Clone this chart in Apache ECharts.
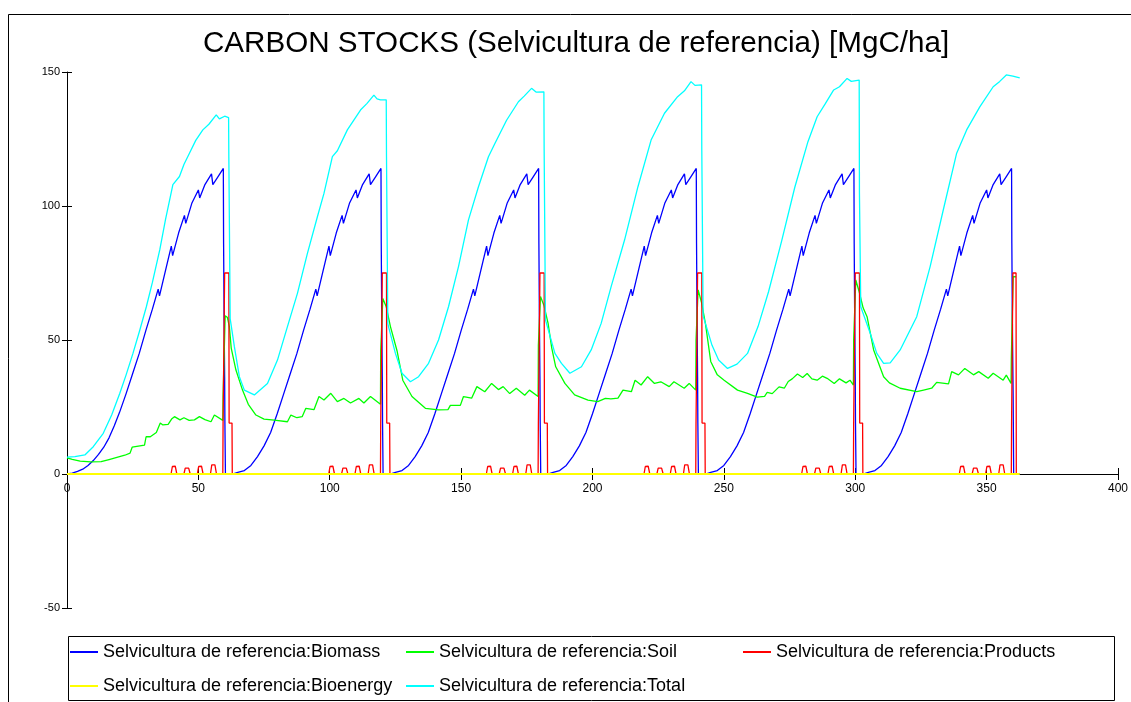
<!DOCTYPE html>
<html>
<head>
<meta charset="utf-8">
<script src="https://cdn.jsdelivr.net/npm/echarts@6/dist/echarts.min.js"></script>
<style>
  html, body { margin: 0; padding: 0; background: #fff; }
  #chart { width: 1131px; height: 702px; }
</style>
</head>
<body>
<div id="chart"></div>
<script>
// series names (legend)
const NAMES = [
  'Selvicultura de referencia:Biomass',
  'Selvicultura de referencia:Soil',
  'Selvicultura de referencia:Products',
  'Selvicultura de referencia:Bioenergy',
  'Selvicultura de referencia:Total'
];
const COLORS = ['#0000ff', '#00ff00', '#ff0000', '#ffff00', '#00ffff'];

// axis ticks
const X_TICKS = { min: 0, max: 400, step: 50 };
const Y_TICKS = { min: -50, max: 150, step: 50 };

// [year, MgC/ha]
const biomass = [
  [0,0],[2,0.3],[4,1],[6,1.8],[8,3.2],[10,5],[12,7.3],[14,10],[16,13.5],[18,18],[20,23],[22.5,30],[25,37.5],[27.5,45],[30,53.5],[32.5,61.5],[34.7,69],[35.2,66.5],[37.5,76],[39.7,85],[40.2,81.5],[42.5,90],[44.7,96.5],[45.2,93.5],[47.5,101],[50,106],[50.5,103],[52.5,108],[55,112],[55.5,108],[57.5,111],[59.5,114],[59.6,86],[59.8,57],[60,36],[60.1,19],[60.3,0],
  [63,0],[65,0.6],[67.5,1.3],[70,3.2],[72.5,6.5],[75,10.5],[77.5,15.5],[80,22.5],[82.5,30],[85,37.5],[87.5,45],[90,53.5],[92.5,61.5],[94.7,69],[95.2,66.5],[97.5,76],[99.7,85],[100.2,81.5],[102.5,90],[104.7,96.5],[105.2,93.5],[107.5,101],[110,106],[110.5,103],[112.5,108],[115,112],[115.5,108],[117.5,111],[119.5,114],[119.6,86],[119.8,57],[120,36],[120.1,19],[120.3,0],
  [123,0],[125,0.6],[127.5,1.3],[130,3.2],[132.5,6.5],[135,10.5],[137.5,15.5],[140,22.5],[142.5,30],[145,37.5],[147.5,45],[150,53.5],[152.5,61.5],[154.7,69],[155.2,66.5],[157.5,76],[159.7,85],[160.2,81.5],[162.5,90],[164.7,96.5],[165.2,93.5],[167.5,101],[170,106],[170.5,103],[172.5,108],[175,112],[175.5,108],[177.5,111],[179.5,114],[179.6,86],[179.8,57],[180,36],[180.1,19],[180.3,0],
  [183,0],[185,0.6],[187.5,1.3],[190,3.2],[192.5,6.5],[195,10.5],[197.5,15.5],[200,22.5],[202.5,30],[205,37.5],[207.5,45],[210,53.5],[212.5,61.5],[214.7,69],[215.2,66.5],[217.5,76],[219.7,85],[220.2,81.5],[222.5,90],[224.7,96.5],[225.2,93.5],[227.5,101],[230,106],[230.5,103],[232.5,108],[235,112],[235.5,108],[237.5,111],[239.5,114],[239.6,86],[239.8,57],[240,36],[240.1,19],[240.3,0],
  [243,0],[245,0.6],[247.5,1.3],[250,3.2],[252.5,6.5],[255,10.5],[257.5,15.5],[260,22.5],[262.5,30],[265,37.5],[267.5,45],[270,53.5],[272.5,61.5],[274.7,69],[275.2,66.5],[277.5,76],[279.7,85],[280.2,81.5],[282.5,90],[284.7,96.5],[285.2,93.5],[287.5,101],[290,106],[290.5,103],[292.5,108],[295,112],[295.5,108],[297.5,111],[299.5,114],[299.6,86],[299.8,57],[300,36],[300.1,19],[300.3,0],
  [303,0],[305,0.6],[307.5,1.3],[310,3.2],[312.5,6.5],[315,10.5],[317.5,15.5],[320,22.5],[322.5,30],[325,37.5],[327.5,45],[330,53.5],[332.5,61.5],[334.7,69],[335.2,66.5],[337.5,76],[339.7,85],[340.2,81.5],[342.5,90],[344.7,96.5],[345.2,93.5],[347.5,101],[350,106],[350.5,103],[352.5,108],[355,112],[355.5,108],[357.5,111],[359.5,114],[359.6,86],[359.8,57],[360.1,29],[360.3,0],[362.6,0]
];

const soil = [
  [0,6],[2,5.5],[5,4.8],[9,4.5],[13,4.6],[16,5.4],[19,6.2],[22,7],[24,7.8],[24.8,10],[29.5,10.8],[30.1,13.9],[31.7,13.9],[34,15.5],[35.5,19],[36.5,18.3],[38.5,18.5],[39.8,20.5],[40.9,21.4],[43,20.2],[44.5,21],[46.5,20],[48.5,20.2],[50.4,21.4],[52.5,20.3],[54.8,19.5],[56.1,22],[59.3,20],[59.4,29],[60.1,29],[60.2,59],[61,58.5],[61.8,55],
  [62.5,47],[64.3,38.8],[66.8,31.3],[69,26],[71.9,22],[75,20.5],[78.9,20.1],[83.9,19.5],[85.2,22],[87.5,21],[89.5,21.4],[90.9,24.5],[94,24],[95.9,28.9],[97.8,27.6],[100.4,30.1],[102.9,27],[105.4,28.2],[107.9,26.5],[111.1,28.2],[113,26.5],[115.5,28.9],[119.3,26],[119.4,46],[120.1,46],[120.2,65.5],[121.5,62.4],
  [123.1,55],[125.6,46],[127.8,35],[131.3,28.9],[136.4,24.5],[141.4,23.9],[145,24],[145.9,25.6],[149.7,25.6],[150.9,28.9],[154,28.3],[156,32.6],[159,30.7],[161.6,33.8],[164.2,31.5],[166,32.6],[168.5,30],[171,32],[174.2,29.4],[176,31.3],[179.3,28.9],[179.4,48],[180.1,48],[180.2,66.2],[181.5,63],
  [183.1,56.2],[184.5,47],[186,40],[189.5,33.8],[193.2,29.5],[198.3,27.6],[202,27],[204.9,28.2],[207,28],[209.7,28.3],[211.6,31.3],[214.8,30.7],[216.2,35],[218.5,33.2],[221,36.3],[223.6,33.8],[226,34.4],[229.2,32.6],[231,34.4],[234.9,32],[236.8,33.8],[239.3,31.3],[239.4,50],[240.1,50],[240.2,68.7],[241.5,64],
  [243,56],[245,42],[247.5,37],[250.1,35],[255.2,31.3],[259,30.1],[262.7,28.7],[265.5,29],[266.5,30.5],[268.4,30],[271,32.5],[273,32],[274.5,34.5],[276,35.5],[278,37.3],[280,36],[281.7,37.5],[283.5,35.5],[285.5,35],[287.5,36.5],[289.3,35.7],[292,33.8],[294,35.5],[296.5,34],[298,35],[299.3,33.2],[299.4,50],[300.1,50],[300.2,72.4],[301.5,68],
  [303,62],[304.5,58.7],[307,46.3],[310.8,36.3],[313,34],[317.1,32],[323.4,30.7],[326,31.3],[329.1,32],[331,34.2],[335.5,33.6],[336.7,38.2],[339.3,37],[341.7,39.4],[345,37],[347,38.2],[350.6,35.7],[352.5,37.6],[356.3,35],[357.5,36.9],[359.3,33.8],[359.4,43],[360,43],[360.1,73.6],[361.2,73.6]
];

const products = [
  [0,0],[39.6,0],[40.1,2.8],[40.6,3.3],[41.2,2.9],[41.8,0],[44.5,0],[45,2.2],[45.6,2.5],[46.3,2.2],[46.9,0],[49.6,0],[50.1,2.8],[50.6,3.3],[51.2,2.9],[51.8,0],[54.6,0],[55.1,3.4],[55.7,4],[56.3,3.4],[56.9,0],[59.3,0],[59.4,19],[59.9,19],[60,75],[61.6,75],[61.7,19],[62.8,19],[62.9,0],
  [99.6,0],[100.1,2.8],[100.6,3.3],[101.2,2.9],[101.8,0],[104.5,0],[105,2.2],[105.6,2.5],[106.3,2.2],[106.9,0],[109.6,0],[110.1,2.8],[110.6,3.3],[111.2,2.9],[111.8,0],[114.6,0],[115.1,3.4],[115.7,4],[116.3,3.4],[116.9,0],[119.3,0],[119.4,19],[119.9,19],[120,75],[121.6,75],[121.7,19],[122.8,19],[122.9,0],
  [159.6,0],[160.1,2.8],[160.6,3.3],[161.2,2.9],[161.8,0],[164.5,0],[165,2.2],[165.6,2.5],[166.3,2.2],[166.9,0],[169.6,0],[170.1,2.8],[170.6,3.3],[171.2,2.9],[171.8,0],[174.6,0],[175.1,3.4],[175.7,4],[176.3,3.4],[176.9,0],[179.3,0],[179.4,19],[179.9,19],[180,75],[181.6,75],[181.7,19],[182.8,19],[182.9,0],
  [219.6,0],[220.1,2.8],[220.6,3.3],[221.2,2.9],[221.8,0],[224.5,0],[225,2.2],[225.6,2.5],[226.3,2.2],[226.9,0],[229.6,0],[230.1,2.8],[230.6,3.3],[231.2,2.9],[231.8,0],[234.6,0],[235.1,3.4],[235.7,4],[236.3,3.4],[236.9,0],[239.3,0],[239.4,19],[239.9,19],[240,75],[241.6,75],[241.7,19],[242.8,19],[242.9,0],
  [279.6,0],[280.1,2.8],[280.6,3.3],[281.2,2.9],[281.8,0],[284.5,0],[285,2.2],[285.6,2.5],[286.3,2.2],[286.9,0],[289.6,0],[290.1,2.8],[290.6,3.3],[291.2,2.9],[291.8,0],[294.6,0],[295.1,3.4],[295.7,4],[296.3,3.4],[296.9,0],[299.3,0],[299.4,19],[299.9,19],[300,75],[301.6,75],[301.7,19],[302.8,19],[302.9,0],
  [339.6,0],[340.1,2.8],[340.6,3.3],[341.2,2.9],[341.8,0],[344.5,0],[345,2.2],[345.6,2.5],[346.3,2.2],[346.9,0],[349.6,0],[350.1,2.8],[350.6,3.3],[351.2,2.9],[351.8,0],[354.6,0],[355.1,3.4],[355.7,4],[356.3,3.4],[356.9,0],[359.4,0],[359.5,19],[359.9,19],[360,75],[361.2,75],[361.3,0]
];

const bioenergy = [[0,0],[362.6,0]];

const total = [
  [0,6.3],[3,6.5],[6.8,7.1],[10,10.2],[13.8,15.2],[17,22],[20.1,30.1],[22.5,37],[25.1,45],[27.5,53],[30.2,62.4],[32.5,71.5],[35.3,83.6],[37.5,95],[40.3,108],[42.8,111],[44.5,115.5],[46.6,119.7],[49,124.5],[51.7,128.4],[54,130.5],[56.8,134],[58,132.5],[60,133.5],[61.5,133],[61.6,118],[62,118],[62.1,58],
  [63.7,47.5],[65.6,36.3],[67.5,31.3],[71.3,29.5],[76.3,33.8],[80.1,42.5],[83.9,55],[87.7,67.4],[91.5,82.3],[95.3,96],[97.8,104.7],[101,118.4],[102.9,120.6],[106.7,128.4],[111.7,135.8],[114.2,138.3],[116.8,141.4],[118,140],[119.3,139.6],[121.5,139.6],[121.6,118.4],[122,118.4],[122.1,56],
  [125,45],[127.5,37.6],[130.7,34.4],[133.8,36.3],[137.6,41.3],[141.4,50],[145.2,62.4],[149,77.4],[152.8,94.8],[156.6,107.2],[160.4,118.4],[162.9,123.4],[167.3,132],[171.8,138.9],[174,141],[176.8,143.9],[178.5,142.5],[181.5,142.6],[181.6,120.9],[182,120.9],[182.1,57.5],
  [185.7,45],[188.2,41.3],[191.4,37.6],[195.8,40],[199.5,46.3],[203.3,56.2],[207.1,69.9],[212.2,87.3],[217.3,107.2],[222.3,124.6],[227.4,134.6],[232.4,140.8],[235,143],[237.5,146.4],[239,145],[241.5,145.2],[241.6,121],[242,121],[242.1,59],
  [245.5,48],[248,42.5],[251.4,39.4],[255,41],[259,45],[263,55],[267,68],[272,87],[277,107],[282,124],[285.5,133.3],[288.5,138],[291.8,143.3],[294,144.5],[296.9,147.6],[298.5,146.5],[301.5,147],[301.6,104.7],[302,104.7],[302.1,62.4],
  [305.7,52.5],[308.2,45],[310.8,41.3],[313.3,41.5],[317.1,46.3],[323.4,58.7],[328.5,77.4],[333.5,98.5],[338.6,119.7],[342.4,128.4],[347.4,137],[352.5,144.5],[355,146.5],[357.5,148.9],[360,148.5],[362.6,147.8]
];

const SERIES_DATA = [biomass, soil, products, bioenergy, total];
const LINE_WIDTHS = [1.3, 1.3, 1.3, 2, 1.3];

const chart = echarts.init(document.getElementById('chart'), null, { renderer: 'canvas' });
const FONT = '"Liberation Sans", Arial, sans-serif';

// legend slots: two rows, three columns
const LEGEND_POS = [[70, 643], [406, 643], [743, 643], [70, 677], [406, 677]];

// x axis sits on y = 0: lift it from the grid bottom (-50) by 50 units = 134px
function xAxisOf(inner) {
  return {
    type: 'value', position: 'bottom', offset: -134,
    min: X_TICKS.min, max: X_TICKS.max, interval: X_TICKS.step,
    axisLine: { show: !inner, onZero: false, lineStyle: { color: '#000', width: 1 } },
    axisTick: { show: true, inside: inner, length: 6, lineStyle: { color: '#000' } },
    axisLabel: { show: !inner, color: '#000', fontSize: 12, fontFamily: FONT, margin: 9 },
    splitLine: { show: false }
  };
}
function yAxisOf(inner) {
  return {
    type: 'value', position: 'left',
    min: Y_TICKS.min, max: Y_TICKS.max, interval: Y_TICKS.step,
    axisLine: { show: !inner, onZero: false, lineStyle: { color: '#000', width: 1 } },
    axisTick: { show: true, inside: inner, length: 5, lineStyle: { color: '#000' } },
    axisLabel: { show: !inner, color: '#000', fontSize: 11, fontFamily: FONT, margin: 7 },
    splitLine: { show: false }
  };
}

chart.setOption({
  backgroundColor: '#fff',
  animation: false,
  color: COLORS,
  title: {
    text: 'CARBON STOCKS (Selvicultura de referencia) [MgC/ha]',
    left: 198, top: 24,
    textStyle: { color: '#000', fontSize: 29.6, fontWeight: 'normal', fontFamily: FONT }
  },
  grid: { left: 67, right: 9, top: 72, bottom: 94, containLabel: false },
  xAxis: [xAxisOf(false), xAxisOf(true)],
  yAxis: [yAxisOf(false), yAxisOf(true)],
  legend: NAMES.map((n, i) => ({
    data: [n], left: LEGEND_POS[i][0], top: LEGEND_POS[i][1], padding: 0,
    icon: 'rect', itemWidth: 28, itemHeight: 2,
    textStyle: { color: '#000', fontSize: 18, fontFamily: FONT }
  })),
  graphic: [
    { type: 'rect', silent: true, z: -10, shape: { x: 8.5, y: 14.5, width: 1300, height: 900 },
      style: { fill: 'none', stroke: '#000', lineWidth: 1 } },
    { type: 'rect', silent: true, shape: { x: 68.5, y: 636.5, width: 1046, height: 64 },
      style: { fill: 'none', stroke: '#000', lineWidth: 1 } }
  ],
  series: NAMES.map((n, i) => ({
    name: n, type: 'line', data: SERIES_DATA[i],
    showSymbol: false, symbol: 'none',
    lineStyle: { width: LINE_WIDTHS[i], color: COLORS[i] },
    itemStyle: { color: COLORS[i] },
    z: 2 + i
  }))
});
</script>
</body>
</html>
